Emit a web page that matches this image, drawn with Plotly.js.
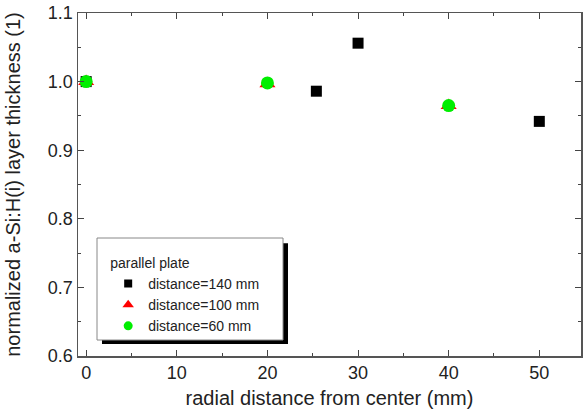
<!DOCTYPE html>
<html><head><meta charset="utf-8">
<script src="https://cdn.plot.ly/plotly-3.0.1.min.js"></script>
<style>html,body{margin:0;padding:0;background:#fff}#plot{width:583px;height:413px}</style>
</head><body><div id="plot"></div>
<script>
const seriesNames = ["distance=140 mm", "distance=100 mm", "distance=60 mm"];
const x140 = [0, 25.4, 30, 50];
const y140 = [1.0, 0.986, 1.056, 0.942];
const x100 = [0, 20, 40];
const y100 = [1.0, 0.997, 0.965];
const x60 = [0, 20, 40];
const y60 = [1.0, 0.998, 0.965];
const legendTitle = "parallel plate";

const colors = ["#000000", "#ff0000", "#00ee00"];
const symbols = ["square", "triangle-up", "circle"];
const sizes = [11, 14, 13];
const legendSizes = [8, 10, 9];
const xs = [x140, x100, x60];
const ys = [y140, y100, y60];

const traces = [];
for (let i = 0; i < 3; i++) {
  traces.push({x: xs[i], y: ys[i], name: seriesNames[i], mode: "markers", type: "scatter",
    showlegend: false, legendgroup: "g" + i,
    marker: {symbol: symbols[i], size: sizes[i], color: colors[i]}});
}
for (let i = 0; i < 3; i++) {
  traces.push({x: [null], y: [null], name: seriesNames[i], mode: "markers", type: "scatter",
    showlegend: true, legendgroup: "g" + i,
    marker: {symbol: symbols[i], size: legendSizes[i], color: colors[i]}});
}
const tc = "#222";
const layout = {
  width: 583, height: 413,
  margin: {l: 78, r: 2, t: 13, b: 57},
  paper_bgcolor: "#fff", plot_bgcolor: "#fff",
  font: {family: "Liberation Sans, Arial, sans-serif", color: tc},
  showlegend: true,
  xaxis: {
    range: [-0.9, 54.6], tickvals: [0,10,20,30,40,50], ticks: "inside", ticklen: 6,
    tickcolor: "#444", tickwidth: 1, mirror: "ticks", showline: true, linecolor: "#555", linewidth: 1.5,
    showgrid: false, zeroline: false, tickfont: {size: 18, color: tc},
    minor: {dtick: 5, tick0: 0, ticks: "inside", ticklen: 3, tickcolor: "#444"},
    title: {text: "radial distance from center (mm)", font: {size: 20, color: tc}, standoff: 9}
  },
  yaxis: {
    range: [0.6, 1.1], tickvals: [0.6,0.7,0.8,0.9,1.0,1.1], ticktext: ["0.6","0.7","0.8","0.9","1.0","1.1"],
    ticks: "inside", ticklen: 6, tickcolor: "#444", mirror: "ticks", showline: true, linecolor: "#555", linewidth: 1.5,
    showgrid: false, zeroline: false, tickfont: {size: 18, color: tc},
    minor: {dtick: 0.05, tick0: 0.6, ticks: "inside", ticklen: 3, tickcolor: "#444"},
    title: {text: "normalized a-Si:H(i) layer thickness (1)", font: {size: 20, color: tc}, standoff: 22}
  },
  legend: {
    x: 0.06, y: 0.31, xanchor: "left", yanchor: "top",
    bgcolor: "rgba(0,0,0,0)", borderwidth: 0,
    font: {size: 14, color: tc},
    title: {text: legendTitle, font: {size: 14, color: tc}},
    itemwidth: 30, tracegroupgap: 0
  },
  shapes: [
    {type: "rect", xref: "paper", yref: "paper", x0: 0.0477, x1: 0.4175, y0: 0.035, y1: 0.329,
     fillcolor: "#000", line: {width: 0}, layer: "above"},
    {type: "rect", xref: "paper", yref: "paper", x0: 0.0378, x1: 0.4076, y0: 0.0466, y1: 0.344,
     fillcolor: "#fff", line: {width: 1, color: "#888"}, layer: "above"}
  ]
};
Plotly.newPlot("plot", traces, layout, {staticPlot: true});
</script></body></html>
